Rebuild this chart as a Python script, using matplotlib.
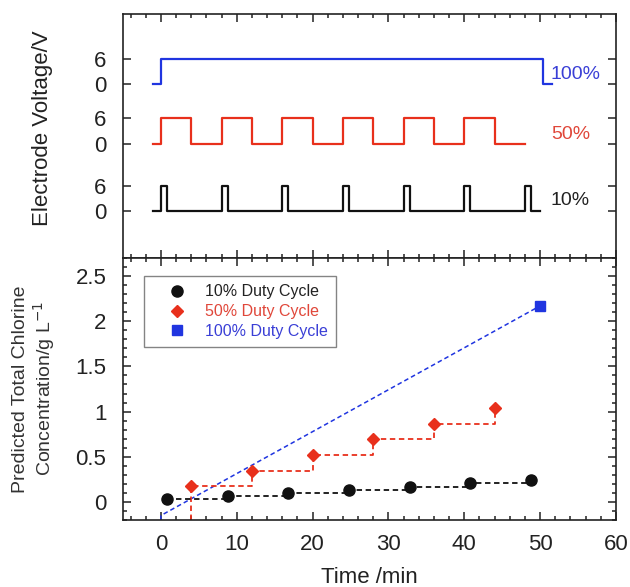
import numpy as np
import matplotlib
matplotlib.use("Agg")
import matplotlib.pyplot as plt
from matplotlib.ticker import MultipleLocator

plt.rcParams['font.family'] = ['Liberation Sans', 'DejaVu Sans']

# --- electrode voltage waveforms (min) ---
on_10 = [0, 8, 16, 24, 32, 40, 48]
off_10 = [0.8, 8.8, 16.8, 24.8, 32.8, 40.8, 48.8]
on_50 = [0, 8, 16, 24, 32, 40]
off_50 = [4, 12, 20, 28, 36, 44]
on_100 = [0]
off_100 = [50.4]
line_start = -1.0
line_end_10 = 50.0
line_end_50 = 48.0
line_end_100 = 51.6
v_high = 6

# --- predicted chlorine (g/L) ---
t_10 = [0.8, 8.8, 16.8, 24.8, 32.8, 40.8, 48.8]
c_10 = [0.035, 0.065, 0.1, 0.135, 0.17, 0.205, 0.24]
t_50 = [4, 12, 20, 28, 36, 44]
c_50 = [0.175, 0.34, 0.52, 0.695, 0.865, 1.04]
t_100 = [50]
c_100 = [2.17]
fit_100_t = [0, 50]
fit_100_c = [-0.15, 2.17]

BLACK = '#111111'
RED = '#e8301c'
BLUE = '#2035e0'
RED_TXT = '#e0473a'
BLUE_TXT = '#3a3fd6'


def square_wave(ons, offs, t0, t1):
    xs, ys = [t0], [0]
    for a, b in zip(ons, offs):
        xs += [a, a, b, b]
        ys += [0, v_high, v_high, 0]
    xs.append(t1)
    ys.append(0)
    return np.array(xs), np.array(ys)


fig = plt.figure(figsize=(6.3, 5.87), dpi=100)
ax1 = fig.add_axes([0.1952, 0.5605, 0.7825, 0.4157])
ax2 = fig.add_axes([0.1952, 0.1141, 0.7825, 0.4464])

offsets = {'10': 0, '50': 16, '100': 30}
for key, ons, offs, end, col in (('10', on_10, off_10, line_end_10, BLACK),
                                  ('50', on_50, off_50, line_end_50, RED),
                                  ('100', on_100, off_100, line_end_100, BLUE)):
    x, y = square_wave(ons, offs, line_start, end)
    ax1.plot(x, y + offsets[key], color=col, lw=1.6)

ax1.text(54.7, offsets['100'] + 2.4, '100%', color=BLUE_TXT, fontsize=14, ha='center', va='center')
ax1.text(54.1, offsets['50'] + 2.2, '50%', color=RED_TXT, fontsize=14, ha='center', va='center')
ax1.text(54.0, offsets['10'] + 2.4, '10%', color='#222222', fontsize=14, ha='center', va='center')

ax1.set_xlim(-5, 60)
ax1.set_ylim(-11.1, 46.7)
yt = [0, 6, 16, 22, 30, 36]
ax1.set_yticks(yt)
ax1.set_yticklabels(['0', '6', '0', '6', '0', '6'])
for lab, c in zip(ax1.get_yticklabels(), [BLACK, BLACK, RED, RED, BLUE, BLUE]):
    lab.set_color(c)
ax1.xaxis.set_major_locator(MultipleLocator(10))
ax1.xaxis.set_minor_locator(MultipleLocator(2))
ax1.tick_params(axis='x', labelbottom=False)
ax1.set_ylabel('Electrode Voltage/V', fontsize=16, color='#222222')
ax1.yaxis.set_label_coords(-0.142, 0.53)

# bottom panel
ybot = -0.2
ax2.plot([fit_100_t[0]] + fit_100_t, [ybot] + fit_100_c, '--', color=BLUE, lw=1.1, dashes=(3, 2))
ax2.plot([t_50[0]] + t_50, [ybot] + c_50, '--', color=RED, lw=1.3, drawstyle='steps-post', dashes=(3, 2))
ax2.plot(t_10, c_10, '--', color=BLACK, lw=1.3, drawstyle='steps-post', dashes=(3, 2))
ax2.plot(t_10, c_10, 'o', color=BLACK, ms=8, label='10% Duty Cycle')
ax2.plot(t_50, c_50, 'D', color=RED, ms=6.5, label='50% Duty Cycle')
ax2.plot(t_100, c_100, 's', color=BLUE, ms=7, label='100% Duty Cycle')

ax2.set_xlim(-5, 60)
ax2.set_ylim(ybot, 2.7)
ax2.xaxis.set_major_locator(MultipleLocator(10))
ax2.xaxis.set_minor_locator(MultipleLocator(2))
ax2.yaxis.set_major_locator(MultipleLocator(0.5))
ax2.yaxis.set_minor_locator(MultipleLocator(0.1))
ax2.set_yticks([0, 0.5, 1, 1.5, 2, 2.5])
ax2.set_yticklabels(['0', '0.5', '1', '1.5', '2', '2.5'])
ax2.set_xlabel('Time /min', fontsize=16, color='#222222', labelpad=9)
ax2.set_ylabel('Predicted Total Chlorine\nConcentration/g L$^{-1}$', fontsize=14,
               color='#333333', linespacing=1.15)
ax2.yaxis.set_label_coords(-0.133, 0.5)

leg = ax2.legend(loc='upper left', bbox_to_anchor=(0.043, 0.93), borderaxespad=0,
                 fontsize=11.5, frameon=True, fancybox=False, handlelength=3.1,
                 handletextpad=0.2, borderpad=0.5, labelspacing=0.3)
leg.get_frame().set_edgecolor('#666666')
leg.get_frame().set_linewidth(1.0)
for txt, c in zip(leg.get_texts(), ['#222222', RED_TXT, BLUE_TXT]):
    txt.set_color(c)

for ax in (ax1, ax2):
    for sp in ax.spines.values():
        sp.set_linewidth(1.2)
        sp.set_color('#222222')
    ax.tick_params(which='both', direction='in', top=True, right=True, colors='#222222',
                   labelsize=16, width=1.1)
    ax.tick_params(which='major', length=6)
    ax.tick_params(which='minor', length=3)
    ax.tick_params(axis='y', pad=12)
    ax.tick_params(axis='x', pad=10)

fig.savefig('out.png', dpi=100)
